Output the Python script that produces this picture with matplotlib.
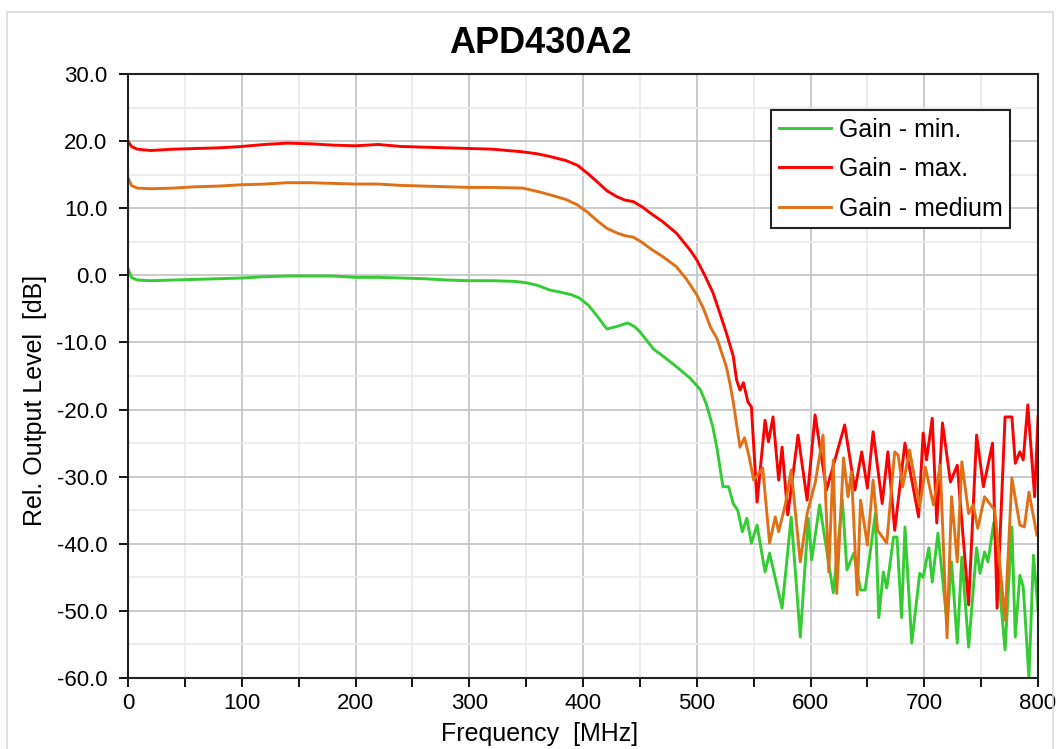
import matplotlib.pyplot as plt
from matplotlib.ticker import MultipleLocator, FormatStrFormatter
from matplotlib.patches import Rectangle

plt.rcParams['font.family'] = ['Liberation Sans', 'DejaVu Sans']

''' Dados lidos do grafico '''
freq_min = [0, 3, 8, 20, 40, 60, 80, 100, 120, 140, 160, 180, 200, 220, 240, 260, 280, 300,
            320, 340, 350, 360, 371, 380, 390, 397, 405, 413, 421, 430, 439, 445, 450, 462,
            470, 482, 494, 503, 508, 514, 518, 523, 528, 532, 536, 540, 544, 548, 553, 560,
            564, 575, 583, 591, 598, 601, 608, 620, 628, 632, 638, 644, 648, 657, 660, 664,
            667, 673, 676, 680, 683, 689, 696, 699, 704, 707, 712, 720, 724, 729, 733, 739,
            746, 749, 753, 756, 761, 765, 771, 777, 780, 784, 787, 792, 796, 800]
gain_min = [1.0, -0.3, -0.7, -0.8, -0.7, -0.6, -0.5, -0.4, -0.2, -0.1, -0.1, -0.1, -0.3, -0.3,
            -0.4, -0.5, -0.7, -0.8, -0.8, -0.9, -1.1, -1.5, -2.2, -2.5, -2.9, -3.4, -4.5, -6.2,
            -8.0, -7.6, -7.1, -7.6, -8.4, -11.0, -12.0, -13.6, -15.3, -17.0, -19.0, -22.5, -26.0,
            -31.5, -31.5, -34.0, -35.0, -38.2, -36.2, -39.9, -37.2, -44.2, -41.4, -49.6, -36.0,
            -53.9, -36.2, -42.4, -34.2, -47.3, -33.5, -43.9, -41.4, -46.9, -46.9, -35.5, -51.0,
            -44.2, -46.6, -39.0, -39.0, -51.0, -37.5, -54.8, -44.4, -45.0, -40.6, -45.7, -38.4,
            -51.8, -42.7, -54.8, -42.0, -55.4, -40.6, -44.4, -41.2, -42.7, -36.9, -44.4, -55.8,
            -37.5, -53.9, -44.7, -46.4, -60.0, -41.7, -49.9]

freq_max = [0, 3, 8, 20, 40, 60, 80, 100, 120, 140, 160, 180, 200, 220, 240, 260, 280, 300,
            320, 347, 360, 371, 385, 395, 404, 412, 421, 430, 437, 444, 452, 459, 470, 482,
            494, 500, 507, 514, 520, 526, 532, 535, 538, 541, 545, 548, 553, 560, 563, 567,
            572, 575, 580, 589, 597, 604, 614, 630, 639, 645, 650, 655, 663, 668, 674, 683,
            695, 699, 702, 707, 711, 716, 723, 729, 739, 746, 752, 760, 764, 771, 777, 780,
            784, 787, 791, 797, 800]
gain_max = [20.0, 19.2, 18.8, 18.6, 18.8, 18.9, 19.0, 19.2, 19.5, 19.7, 19.6, 19.4, 19.3, 19.5,
            19.2, 19.1, 19.0, 18.9, 18.8, 18.4, 18.1, 17.7, 17.1, 16.4, 15.2, 14.0, 12.6, 11.7,
            11.2, 11.0, 10.2, 9.3, 8.0, 6.3, 3.8, 2.3, 0.0, -2.5, -5.5, -8.6, -12.0, -15.6,
            -17.1, -16.0, -18.9, -19.6, -33.8, -21.6, -24.8, -21.1, -30.5, -25.6, -35.7, -23.8,
            -33.5, -20.8, -32.0, -22.3, -32.0, -26.3, -31.7, -23.3, -34.0, -26.3, -38.0, -25.0,
            -36.0, -23.5, -27.5, -21.3, -36.9, -22.0, -30.8, -28.3, -49.1, -23.8, -31.5, -25.0,
            -49.6, -21.1, -21.1, -28.0, -26.3, -27.5, -19.3, -33.0, -21.0]

freq_med = [0, 3, 8, 20, 40, 60, 80, 100, 120, 140, 160, 180, 200, 220, 240, 260, 280, 300,
            320, 347, 360, 371, 385, 395, 404, 412, 421, 430, 437, 444, 452, 459, 470, 482,
            491, 500, 506, 512, 518, 522, 526, 529, 532, 538, 542, 546, 550, 558, 564, 569,
            572, 578, 583, 591, 597, 604, 611, 616, 620, 623, 629, 633, 636, 641, 644, 650,
            655, 659, 667, 674, 677, 681, 687, 696, 701, 708, 714, 720, 724, 729, 733, 739,
            743, 747, 753, 762, 771, 777, 784, 788, 792, 799]
gain_med = [14.5, 13.4, 13.0, 12.9, 13.0, 13.2, 13.3, 13.5, 13.6, 13.8, 13.8, 13.7, 13.6, 13.6,
            13.4, 13.3, 13.2, 13.1, 13.1, 13.0, 12.5, 12.0, 11.3, 10.5, 9.4, 8.2, 7.0, 6.3, 5.9,
            5.7, 4.9, 4.0, 2.8, 1.3, -0.6, -2.9, -5.0, -7.7, -9.5, -11.6, -13.6, -16.0, -18.8,
            -25.6, -24.2, -27.0, -30.5, -28.7, -39.9, -36.0, -38.2, -34.0, -29.0, -42.7, -35.5,
            -31.0, -23.8, -44.2, -27.5, -47.4, -27.2, -33.0, -29.3, -47.6, -33.5, -40.2, -30.5,
            -38.0, -39.9, -26.3, -26.8, -31.5, -26.0, -34.5, -28.6, -34.2, -28.3, -54.0, -33.0,
            -42.7, -27.8, -35.5, -34.2, -37.7, -33.0, -35.0, -51.4, -30.2, -37.2, -37.5, -32.3,
            -38.7]

''' Figura '''
fig = plt.figure(figsize=(10.59, 7.49), dpi=100)
ax = fig.add_axes([0.1209, 0.0948, 0.8593, 0.8064])

fig.patches.append(Rectangle((7 / 1059, -0.01), 1046 / 1059, 1 - 12 / 749 + 0.01,
                             transform=fig.transFigure, fill=False,
                             edgecolor='#d9d9d9', linewidth=1.2))

ax.plot(freq_min, gain_min, color='#33cc33', lw=2.1, label='Gain - min.')
ax.plot(freq_max, gain_max, color='#ff0000', lw=2.1, label='Gain - max.')
ax.plot(freq_med, gain_med, color='#e07016', lw=2.1, label='Gain - medium')

ax.set_xlim(0, 800)
ax.set_ylim(-60, 30)
ax.xaxis.set_major_locator(MultipleLocator(100))
ax.xaxis.set_minor_locator(MultipleLocator(50))
ax.yaxis.set_major_locator(MultipleLocator(10))
ax.yaxis.set_minor_locator(MultipleLocator(5))
ax.yaxis.set_major_formatter(FormatStrFormatter('%.1f'))

ax.grid(which='major', color='#c6c6c6', lw=1.3)
ax.grid(which='minor', color='#ebebeb', lw=1.3)
ax.set_axisbelow(True)

ax.tick_params(which='major', direction='out', length=6.5, width=1.3, labelsize=16)
ax.tick_params(axis='y', which='major', pad=8.5)
ax.tick_params(axis='x', which='major', pad=4)
ax.tick_params(axis='x', which='minor', direction='out', length=6.5, width=1.3)
ax.tick_params(axis='y', which='minor', length=0)
for s in ax.spines.values():
    s.set_linewidth(1.5)
    s.set_color('#222222')

# titulo e rotulos deslocados para a esquerda como no original
ax.set_title('APD430A2', fontsize=26, fontweight='bold', x=0.4527, y=1.0348, pad=0)
ax.set_xlabel('Frequency  [MHz]', fontsize=18)
ax.xaxis.set_label_coords(0.4527, -0.073)
ax.set_ylabel('Rel. Output Level  [dB]', fontsize=18)
ax.yaxis.set_label_coords(-0.089, 0.46)

leg = ax.legend(loc='upper right', bbox_to_anchor=(0.969, 0.940), fontsize=18,
                fancybox=False, framealpha=1, edgecolor='#222222', handlelength=2.1,
                labelspacing=0.62, borderpad=0.3, handletextpad=0.3, borderaxespad=0)
leg.get_frame().set_linewidth(1.5)

plt.savefig('out.png', dpi=100)
